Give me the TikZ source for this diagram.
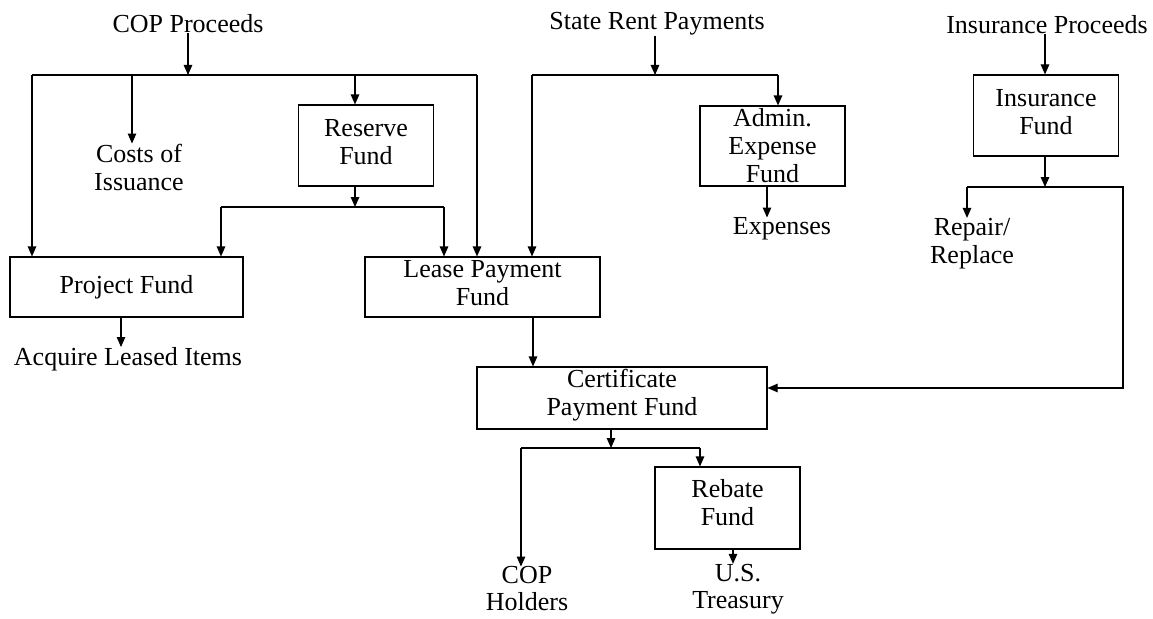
\documentclass[tikz,border=0pt]{standalone}
\usepackage{fontspec}
\setmainfont{Liberation Serif}
\usetikzlibrary{arrows.meta}
\begin{document}
\begin{tikzpicture}[x=1pt,y=-1pt,
  txt/.style={inner sep=0pt, align=center, font=\fontsize{26}{28}\selectfont},
  fbox/.style={txt, draw, line width=1.1pt},
  ln/.style={line width=1.1pt},
  arr/.style={ln, -{Triangle[length=10pt,width=8.5pt]}}]
\useasboundingbox (0,0) rectangle (1153,618);
% boxes
\node[fbox, minimum width=233pt, minimum height=60pt] (proj) at (126.5,287) {Project Fund};
\node[fbox, minimum width=134.5pt, minimum height=81pt, text depth=8pt] (res) at (366,145.5) {Reserve\\Fund};
\node[fbox, minimum width=235pt, minimum height=60pt, text depth=8pt] (lease) at (482.5,287) {Lease Payment\\Fund};
\node[fbox, minimum width=145pt, minimum height=80pt] (adm) at (772.5,146) {Admin.\\Expense\\Fund};
\node[fbox, minimum width=144.5pt, minimum height=81pt, text depth=8pt] (insf) at (1046,115.5) {Insurance\\Fund};
\node[fbox, minimum width=290pt, minimum height=62pt, text depth=12pt] (cert) at (622,398) {Certificate\\Payment Fund};
\node[fbox, minimum width=145pt, minimum height=82pt, text depth=12pt] (reb) at (727.5,508) {Rebate\\Fund};
% labels
\node[txt] (cop) at (188,24) {COP Proceeds};
\node[txt] (srp) at (657,24) {State Rent Payments};
\node[txt] (insp) at (1047,25) {Insurance Proceeds};
\node[txt] (costs) at (139,167) {Costs of\\Issuance};
\node[txt] (acq) at (128,359) {Acquire Leased Items};
\node[txt] (exp) at (782,229) {Expenses};
\node[txt] (rep) at (972,243.5) {Repair/\\Replace};
\node[txt, font=\fontsize{26}{27}\selectfont] (hold) at (527,589) {COP\\Holders};
\node[txt, font=\fontsize{26}{27}\selectfont] (treas) at (738,589) {U.S.\\Treasury};
% junctions
\coordinate (j1) at (188,75);
\coordinate (j1L) at (32,75);
\coordinate (j1C) at (132,75);
\coordinate (j1M) at (355,75);
\coordinate (j1R) at (477,75);
\coordinate (j2) at (355,207);
\coordinate (j2L) at (221,207);
\coordinate (j2R) at (444,207);
\coordinate (j3) at (655,75);
\coordinate (j3L) at (532,75);
\coordinate (j3R) at (778,75);
\coordinate (j4) at (1045,187);
\coordinate (j4L) at (967,187);
\coordinate (j4R) at (1123,187);
\coordinate (j5) at (1123,388);
\coordinate (j6) at (611,448);
\coordinate (j6L) at (521,448);
\coordinate (j6R) at (700,448);
\coordinate (pa) at (121,0);
\coordinate (ea) at (767,0);
\coordinate (la) at (533,0);
\coordinate (ta) at (733,0);
% COP proceeds
\draw[arr] (cop.south -| j1) -- (j1);
\draw[ln] (j1L) -- (j1R);
\draw[arr] (j1L) -- (j1L |- proj.north);
\draw[arr] (j1C) -- (j1C |- costs.north);
\draw[arr] (j1M) -- (j1M |- res.north);
\draw[arr] (j1R) -- (j1R |- lease.north);
% reserve
\draw[arr] (res.south -| j2) -- (j2);
\draw[ln] (j2L) -- (j2R);
\draw[arr] (j2L) -- (j2L |- proj.north);
\draw[arr] (j2R) -- (j2R |- lease.north);
\draw[arr] (proj.south -| pa) -- (pa |- acq.north);
% state rent
\draw[arr] (srp.south -| j3) -- (j3);
\draw[ln] (j3L) -- (j3R);
\draw[arr] (j3L) -- (j3L |- lease.north);
\draw[arr] (j3R) -- (j3R |- adm.north);
\draw[arr] (adm.south -| ea) -- (ea |- exp.north);
% insurance
\draw[arr] (insp.south -| j4) -- (j4 |- insf.north);
\draw[arr] (insf.south -| j4) -- (j4);
\draw[arr] (j4L) -- (j4L |- rep.north);
\draw[arr] (j4L) -- (j4R) -- (j5) -- (j5 -| cert.east);
% lease to certificate
\draw[arr] (lease.south -| la) -- (la |- cert.north);
% certificate
\draw[arr] (cert.south -| j6) -- (j6);
\draw[ln] (j6L) -- (j6R);
\draw[arr] (j6L) -- (j6L |- hold.north);
\draw[arr] (j6R) -- (j6R |- reb.north);
\draw[arr] (reb.south -| ta) -- (ta |- treas.north);
\end{tikzpicture}
\end{document}
